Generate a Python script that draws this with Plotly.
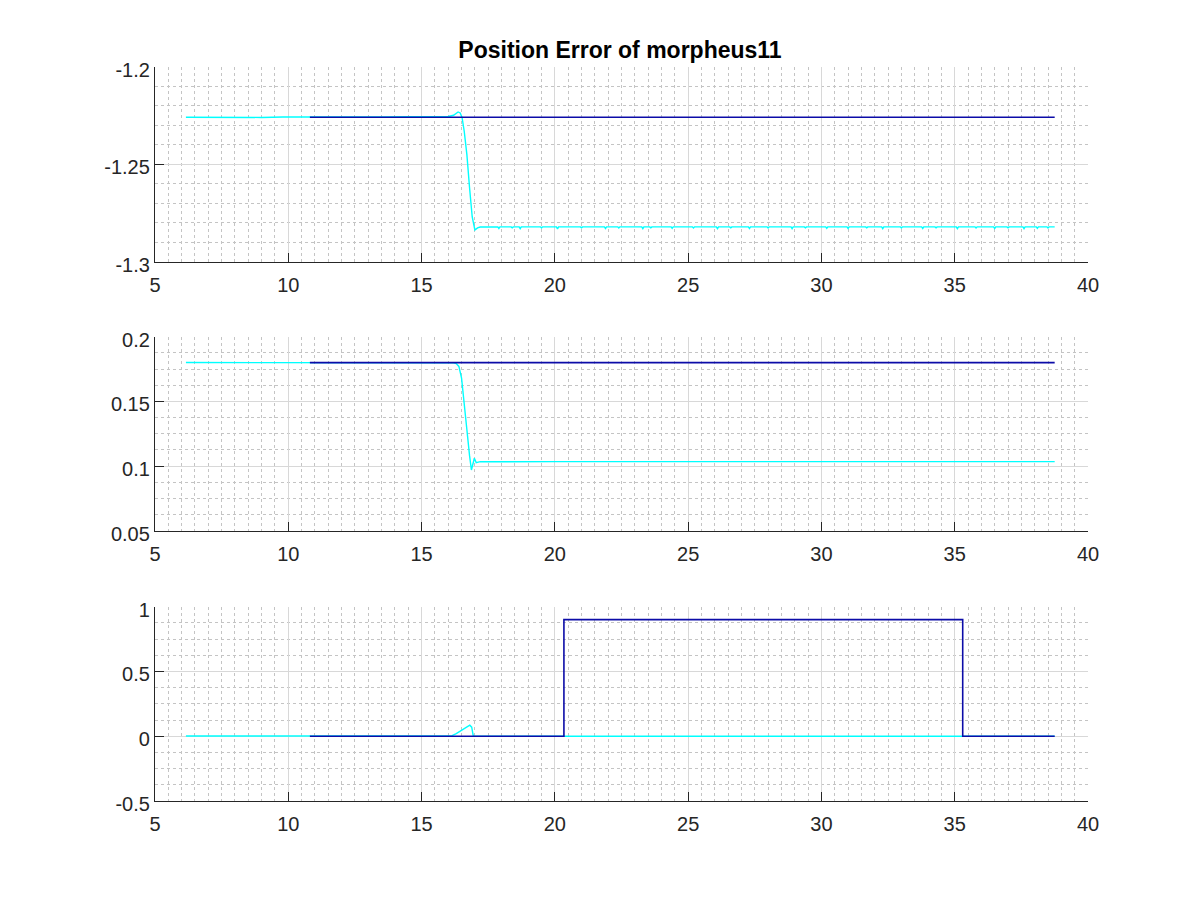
import plotly.graph_objects as go

# ---------------- data ----------------
# Panel 1 (x position)
t1_ref = [10.81, 38.75]
y1_ref = [-1.2258, -1.2258]
t1_act = [6.16, 6.8, 7.5, 8.2, 9.0, 9.8, 10.5, 11.2, 12.0, 12.8, 13.6, 14.4, 15.0, 15.6,
          16.0, 16.2, 16.3, 16.37, 16.45, 16.52, 16.6, 16.7, 16.8, 16.9, 17.0, 17.1, 17.2, 17.5]
y1_act = [-1.2258, -1.2259, -1.2257, -1.2258, -1.2259, -1.2257, -1.2258, -1.2257, -1.2256, -1.2257, -1.2256, -1.2255, -1.2256, -1.2255,
          -1.2254, -1.2248, -1.2238, -1.2231, -1.2236, -1.2260, -1.2330, -1.2450, -1.2620, -1.2770, -1.2837, -1.2826, -1.2822, -1.2821]
# steady-state level and small downward spikes (time, depth)
y1_steady = -1.2821
spike_t = [17.9, 18.4, 18.7, 19.5, 20.1, 21.0, 21.9, 22.4, 23.3, 23.6, 24.4, 25.2, 26.1, 26.6,
           27.3, 28.0, 28.9, 29.4, 30.2, 31.0, 31.7, 32.3, 33.0, 33.8, 34.3, 35.1, 35.8, 36.5,
           37.0, 37.6, 38.1, 38.5]
spike_d = [0.0008, 0.0005, 0.0009, 0.0006, 0.0010, 0.0005, 0.0008, 0.0006, 0.0009, 0.0005, 0.0007, 0.0006,
           0.0009, 0.0005, 0.0008, 0.0006, 0.0009, 0.0005, 0.0007, 0.0008, 0.0005, 0.0009, 0.0006, 0.0008,
           0.0005, 0.0009, 0.0006, 0.0008, 0.0005, 0.0009, 0.0007, 0.0006]
t1_end = 38.75

# Panel 2 (y position)
t2_ref = [10.81, 38.75]
y2_ref = [0.1799, 0.1799]
t2_act = [6.16, 10.0, 14.0, 16.2, 16.3, 16.4, 16.5, 16.6, 16.7, 16.8, 16.87, 16.98, 17.05, 17.2, 17.5, 20.0, 25.0, 30.0, 35.0, 38.75]
y2_act = [0.1800, 0.1800, 0.1800, 0.1798, 0.1792, 0.1770, 0.1680, 0.1500, 0.1280, 0.1080, 0.0969, 0.1060, 0.1026, 0.1034, 0.1033, 0.1034, 0.1034, 0.1034, 0.1034, 0.1034]

# Panel 3 (z / gripper)
t3_ref = [10.81, 20.34, 20.34, 35.30, 35.30, 38.75]
y3_ref = [0.0, 0.0, 0.9, 0.9, 0.0, 0.0]
t3_act = [6.16, 10.0, 14.0, 16.0, 16.13, 16.3, 16.5, 16.7, 16.81, 16.88, 16.94, 17.1, 20.0, 25.0, 30.0, 35.0, 38.75]
y3_act = [0.002, 0.002, 0.001, 0.0, 0.003, 0.020, 0.045, 0.072, 0.085, 0.070, 0.002, 0.0, 0.0, 0.0, 0.0, 0.0, 0.0]

x_ticks = [5, 10, 15, 20, 25, 30, 35, 40]
title_text = "Position Error of morpheus11"

# build panel-1 steady part with narrow spikes
t1_full = list(t1_act)
y1_full = list(y1_act)
for st, sd in zip(spike_t, spike_d):
    t1_full += [st - 0.04, st, st + 0.04]
    y1_full += [y1_steady, y1_steady - sd, y1_steady]
t1_full.append(t1_end)
y1_full.append(y1_steady)

# ---------------- styles ----------------
CYAN = "#00ffff"
BLUE = "#0c0ca8"
AX = "#262626"
MAJ = "#d8d8d8"
MIN = "#c4c4c4"
FONT = "Liberation Sans, Arial, sans-serif"

fig = go.Figure()

panels = [
    (t1_full, y1_full, t1_ref, y1_ref, [-1.3, -1.2], 0.01, ["-1.3", "-1.25", "-1.2"], [-1.3, -1.25, -1.2], [0.7347, 1.0]),
    (t2_act, y2_act, t2_ref, y2_ref, [0.05, 0.2], 0.0125, ["0.05", "0.1", "0.15", "0.2"], [0.05, 0.1, 0.15, 0.2], [0.3683, 0.6326]),
    (t3_act, y3_act, t3_ref, y3_ref, [-0.5, 1.0], 0.125, ["-0.5", "0", "0.5", "1"], [-0.5, 0, 0.5, 1], [0.0, 0.2647]),
]

layout_axes = {}
for i, (ta, ya, tr, yr, yrange, ymin, ytxt, yvals, dom) in enumerate(panels, start=1):
    xa = "x" if i == 1 else f"x{i}"
    ya_name = "y" if i == 1 else f"y{i}"
    fig.add_trace(go.Scatter(x=ta, y=ya, mode="lines", line=dict(color=CYAN, width=1.4),
                             xaxis=xa, yaxis=ya_name, showlegend=False, hoverinfo="skip"))
    fig.add_trace(go.Scatter(x=tr, y=yr, mode="lines", line=dict(color=BLUE, width=1.6),
                             xaxis=xa, yaxis=ya_name, showlegend=False, hoverinfo="skip"))
    xkey = "xaxis" if i == 1 else f"xaxis{i}"
    ykey = "yaxis" if i == 1 else f"yaxis{i}"
    layout_axes[xkey] = dict(
        domain=[0, 1], anchor=ya_name, range=[5, 40],
        tickvals=x_ticks, ticktext=[str(v) for v in x_ticks],
        ticks="inside", ticklen=9, tickcolor=AX, tickwidth=1.2,
        showline=True, linecolor=AX, linewidth=1.3, mirror=False,
        showgrid=True, gridcolor=MAJ, gridwidth=1, zeroline=False,
        minor=dict(dtick=0.5, tick0=5, showgrid=True, gridcolor=MIN, griddash="dot", gridwidth=1, ticks=""),
        tickfont=dict(family=FONT, size=20, color=AX),
        ticklabelstandoff=5,
    )
    layout_axes[ykey] = dict(
        domain=dom, anchor=xa, range=yrange,
        tickvals=yvals, ticktext=ytxt,
        ticks="inside", ticklen=9, tickcolor=AX, tickwidth=1.2,
        showline=True, linecolor=AX, linewidth=1.3, mirror=False,
        showgrid=True, gridcolor=MAJ, gridwidth=1, zeroline=False,
        minor=dict(dtick=ymin, tick0=yrange[0], showgrid=True, gridcolor=MIN, griddash="dot", gridwidth=1, ticks=""),
        tickfont=dict(family=FONT, size=20, color=AX),
        ticklabelshift=3,
    )

fig.update_layout(
    width=1200, height=900,
    margin=dict(l=147, r=120, t=59, b=107),
    paper_bgcolor="white", plot_bgcolor="white",
    title=dict(text="<b>" + title_text + "</b>", x=(620 - 8) / 1200, xanchor="center",
               y=1 - 42 / 900, yanchor="middle", font=dict(family=FONT, size=23, color="black")),
    **layout_axes,
)

fig.write_html("out.html")
